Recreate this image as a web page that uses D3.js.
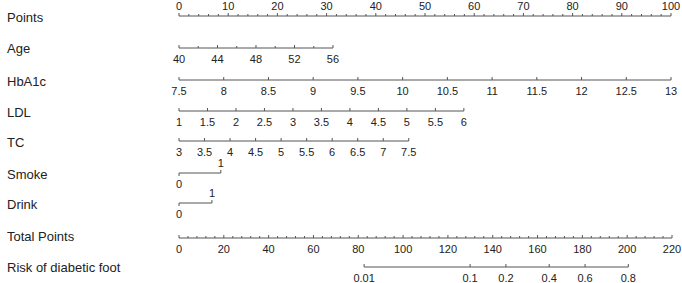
<!DOCTYPE html>
<html>
<head>
<meta charset="utf-8">
<script src="https://cdn.jsdelivr.net/npm/d3@7"></script>
<style>
  body { margin: 0; background: #fff; }
  text { font-family: Arial, "Liberation Sans", sans-serif; fill: #222; }
</style>
</head>
<body>
<div class="chart"></div>
<script>
// nomogram values
var pointTicks = [0, 10, 20, 30, 40, 50, 60, 70, 80, 90, 100];
var ageRange = [40, 56], agePoints = 31.3;
var ageMajor = [40, 44, 48, 52, 56], ageMinor = [42, 46, 50, 54];
var hbaRange = [7.5, 13], hbaPoints = 100;
var hbaTicks = [7.5, 8, 8.5, 9, 9.5, 10, 10.5, 11, 11.5, 12, 12.5, 13];
var ldlRange = [1, 6], ldlPoints = 57.9;
var ldlTicks = [1, 1.5, 2, 2.5, 3, 3.5, 4, 4.5, 5, 5.5, 6];
var tcRange = [3, 7.5], tcPoints = 46.7;
var tcTicks = [3, 3.5, 4, 4.5, 5, 5.5, 6, 6.5, 7, 7.5];
var smokePoints = [0, 8.5];
var drinkPoints = [0, 6.7];
var totalTicks = [0, 20, 40, 60, 80, 100, 120, 140, 160, 180, 200, 220];
var riskLabels = ["0.01", "0.1", "0.2", "0.4", "0.6", "0.8"];
var riskTotal = [82.6, 129.9, 145.9, 165.2, 181.2, 200.5];

var svgWidth = 682, svgHeight = 283;
var svg = d3.select(".chart").append("svg")
    .attr("width", svgWidth)
    .attr("height", svgHeight);

var lineColor = "#555";
var x = d3.scaleLinear().domain([0, 100]).range([179, 671]);
var xTotal = d3.scaleLinear().domain([0, 220]).range([179, 672]);

function rowName(name, y) {
    svg.append("text")
        .attr("x", 7)
        .attr("y", y)
        .attr("dy", "0.35em")
        .style("font-size", "13px")
        .text(name);
}

function hline(x0, x1, y) {
    svg.append("line")
        .attr("x1", x0).attr("x2", x1)
        .attr("y1", y).attr("y2", y)
        .attr("stroke", lineColor).attr("stroke-width", 1);
}

function ticks(xs, y, len) {
    svg.append("g").selectAll("line")
        .data(xs)
        .enter()
        .append("line")
        .attr("x1", d => d).attr("x2", d => d)
        .attr("y1", y).attr("y2", y + len)
        .attr("stroke", lineColor).attr("stroke-width", 1);
}

function labels(items, y) {
    svg.append("g").selectAll("text")
        .data(items)
        .enter()
        .append("text")
        .attr("x", d => d.x)
        .attr("y", y)
        .attr("dy", "0.35em")
        .attr("text-anchor", "middle")
        .style("font-size", "11px")
        .text(d => d.t);
}

// continuous variable row
function varRow(name, nameY, lineY, range, maxPts, major, minor) {
    var pts = d3.scaleLinear().domain(range).range([0, maxPts]);
    rowName(name, nameY);
    hline(x(0), x(maxPts), lineY);
    ticks(major.map(v => x(pts(v))), lineY, -3);
    ticks(minor.map(v => x(pts(v))), lineY, -2);
    labels(major.map(v => ({ x: x(pts(v)), t: v })), lineY + 11);
}

// Points
rowName("Points", 17);
hline(x(0), x(100), 16);
ticks(pointTicks.map(x), 16, -3);
ticks(d3.range(2, 100, 2).filter(v => v % 10 !== 0).map(x), 16, -2);
labels(pointTicks.map(v => ({ x: x(v), t: v })), 6);

varRow("Age", 48, 48, ageRange, agePoints, ageMajor, ageMinor);
varRow("HbA1c", 81, 80, hbaRange, hbaPoints, hbaTicks, []);
varRow("LDL", 112, 111, ldlRange, ldlPoints, ldlTicks, []);
varRow("TC", 142, 141, tcRange, tcPoints, tcTicks, []);

// binary rows
function binRow(name, lineY, pts) {
    rowName(name, lineY + 1);
    hline(x(pts[0]), x(pts[1]), lineY);
    ticks([x(pts[0])], lineY, 3);
    ticks([x(pts[1])], lineY, -3);
    labels([{ x: x(pts[0]), t: "0" }], lineY + 11);
    labels([{ x: x(pts[1]), t: "1" }], lineY - 10);
}
binRow("Smoke", 173, smokePoints);
binRow("Drink", 203, drinkPoints);

// Total Points
rowName("Total Points", 236);
hline(xTotal(0), xTotal(220), 238);
ticks(totalTicks.map(xTotal), 238, -3);
ticks(d3.range(4, 220, 4).filter(v => v % 20 !== 0).map(xTotal), 238, -2);
labels(totalTicks.map(v => ({ x: xTotal(v), t: v })), 249);

// Risk
rowName("Risk of diabetic foot", 267);
hline(xTotal(riskTotal[0]), xTotal(riskTotal[riskTotal.length - 1]), 267);
ticks(riskTotal.map(xTotal), 267, -3);
labels(riskTotal.map((v, i) => ({ x: xTotal(v), t: riskLabels[i] })), 278);
</script>
</body>
</html>
